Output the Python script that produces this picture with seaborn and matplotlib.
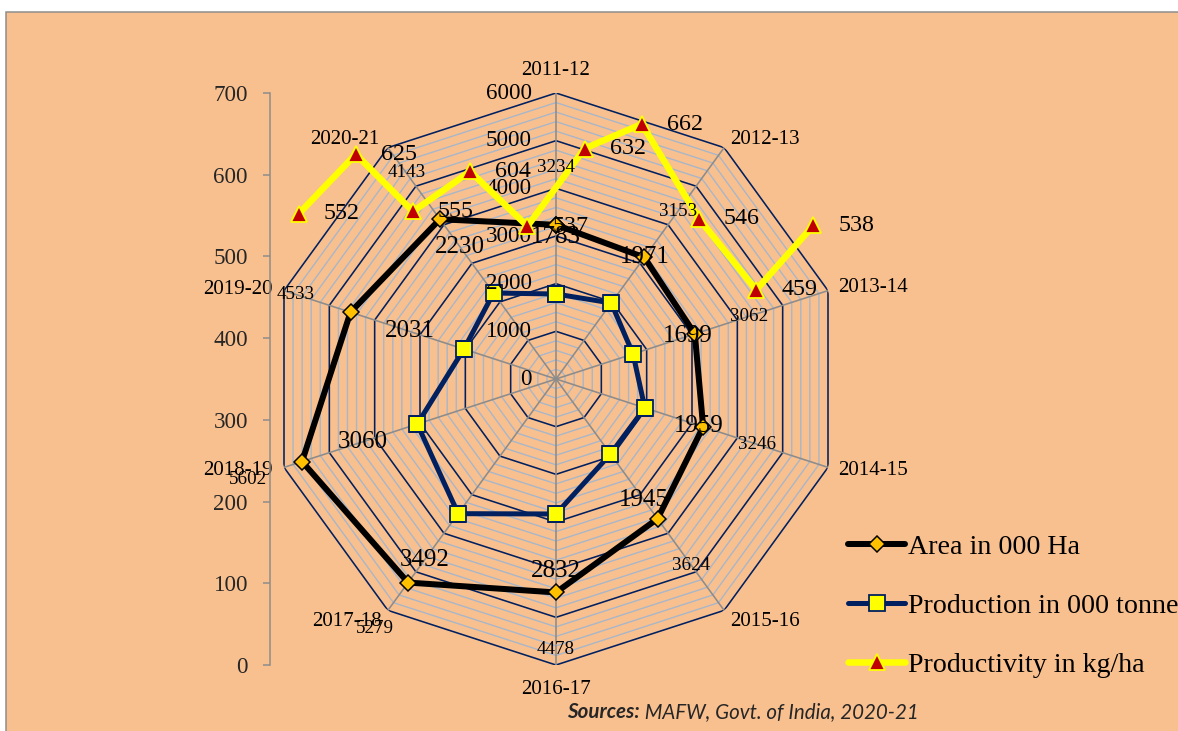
import numpy as np
import pandas as pd
import matplotlib
matplotlib.use("Agg")
import matplotlib.pyplot as plt
from matplotlib.lines import Line2D
from matplotlib.patches import Rectangle
import seaborn as sns

# ---- data -------------------------------------------------------------
years = ["2011-12", "2012-13", "2013-14", "2014-15", "2015-16",
         "2016-17", "2017-18", "2018-19", "2019-20", "2020-21"]
area = [3234, 3153, 3062, 3246, 3624, 4478, 5279, 5602, 4533, 4143]          # 000 ha
production = [1783, 1971, 1699, 1959, 1945, 2832, 3492, 3060, 2031, 2230]    # 000 tonnes
productivity = [552, 625, 555, 604, 537, 632, 662, 546, 459, 538]            # kg/ha
radial_ticks = [0, 1000, 2000, 3000, 4000, 5000, 6000]
left_ticks = [0, 100, 200, 300, 400, 500, 600, 700]
series_names = ["Area in 000 Ha", "Production in 000 tonnes", "Productivity in kg/ha"]

# ---- style ------------------------------------------------------------
PEACH = "#F9C08F"
BORDER = "#8C8C8C"
NAVY = "#002060"
MINOR = "#A9B6C8"
SPOKE = "#8C8C8C"
GOLD = "#FFC000"
YELLOW = "#FFFF00"
RED = "#C00000"

sns.set_theme(style="white")
plt.rcParams["font.family"] = ["Liberation Serif", "DejaVu Serif"]
plt.rcParams["text.color"] = "black"

DPI = 72
W, H = 1178, 731
fig = plt.figure(figsize=(W / DPI, H / DPI), dpi=DPI, facecolor="white")


def px_rect(x0, y0, x1, y1):
    return [x0 / W, 1 - y1 / H, (x1 - x0) / W, (y1 - y0) / H]


# chart area background with its frame
fig.add_artist(Rectangle((6 / W, -0.05), 1.1, (H - 12) / H + 0.05,
                         transform=fig.transFigure, facecolor=PEACH,
                         edgecolor=BORDER, lw=1.5, zorder=0))

plot_box = px_rect(270, 93, 842, 665)

# ---- radar (polar) axes ---------------------------------------------
axp = fig.add_axes(plot_box, projection="polar")
axp.set_theta_offset(np.pi / 2)
axp.set_theta_direction(-1)
axp.set_ylim(0, 6000)
axp.set_axis_off()

n = len(years)
angles = np.arange(n) * 2 * np.pi / n
theta_closed = np.r_[angles, 2 * np.pi]

# polygonal grid: minor every 200, major every 1000
for r in range(200, 6001, 200):
    major = r % 1000 == 0
    axp.plot(theta_closed, np.full(n + 1, r), color=NAVY if major else MINOR,
             lw=1.6 if major else 1.4, zorder=2 if major else 1)
for t in angles:
    axp.plot([t, t], [0, 6000], color=SPOKE, lw=1.6, zorder=3)


def closed(values):
    return list(values) + [values[0]]


radar = pd.DataFrame({"theta": theta_closed,
                      "area": closed(area),
                      "production": closed(production)})

sns.lineplot(data=radar, x="theta", y="area", ax=axp, sort=False,
             color="black", lw=6, marker="D", markersize=12,
             markerfacecolor=GOLD, markeredgecolor="black",
             markeredgewidth=1.5, zorder=5)
sns.lineplot(data=radar, x="theta", y="production", ax=axp, sort=False,
             color=NAVY, lw=5, marker="s", markersize=16,
             markerfacecolor=YELLOW, markeredgecolor=NAVY,
             markeredgewidth=1.8, zorder=5)

# value labels sit above every plotted line, so they live on the figure
for t, v in zip(angles, area):
    fig.text(t, v + 1200, f"{v}", transform=axp.transData, ha="center",
             va="center", fontsize=19, zorder=10)
for t, v in zip(angles, production):
    fig.text(t, v + 1200, f"{v}", transform=axp.transData, ha="center",
             va="center", fontsize=25, zorder=10)

# radial scale along the first spoke
for r in radial_ticks:
    axp.annotate(str(r), xy=(0, r), xytext=(-24, 0), textcoords="offset points",
                 ha="right", va="center", fontsize=23, annotation_clip=False, zorder=6)

# category labels around the outer ring
cat_layout = [("center", (0, 23)), ("left", (6, 8)), ("left", (10, 3)),
              ("left", (10, -3)), ("left", (6, -11)), ("center", (0, -25)),
              ("right", (-6, -11)), ("right", (-11, -3)), ("right", (-11, 1)),
              ("right", (-8, 8))]
for t, lab, (ha, off) in zip(angles, years, cat_layout):
    axp.annotate(lab, xy=(t, 6000), xytext=off, textcoords="offset points",
                 ha=ha, va="center", fontsize=21, annotation_clip=False, zorder=6)

# ---- productivity on a secondary cartesian axis -----------------------
axc = fig.add_axes(plot_box)
axc.set_facecolor("none")
axc.set_xlim(0, n)
axc.set_ylim(0, 700)
xpos = np.arange(n) + 0.5
sns.lineplot(x=xpos, y=productivity, ax=axc, color=YELLOW, lw=6.5,
             marker="^", markersize=16, markerfacecolor=RED,
             markeredgecolor=YELLOW, markeredgewidth=1.8, zorder=5)
for x, v in zip(xpos, productivity):
    axc.annotate(str(v), xy=(x, v), xytext=(43, 0), textcoords="offset points",
                 ha="center", va="center", fontsize=24)

for s in ["top", "right", "bottom"]:
    axc.spines[s].set_visible(False)
axc.spines["left"].set_color(SPOKE)
axc.spines["left"].set_linewidth(1.5)
axc.set_yticks(left_ticks)
axc.set_xticks([])
axc.tick_params(axis="y", direction="out", length=7, width=1.5, color=SPOKE,
                pad=15, labelsize=23, left=True)
axc.set_xlabel("")
axc.set_ylabel("")

# ---- legend -------------------------------------------------------------
handles = [
    Line2D([], [], color="black", lw=6, marker="D", markersize=12,
           markerfacecolor=GOLD, markeredgecolor="black", markeredgewidth=1.5),
    Line2D([], [], color=NAVY, lw=5, marker="s", markersize=16,
           markerfacecolor=YELLOW, markeredgecolor=NAVY, markeredgewidth=1.8),
    Line2D([], [], color=YELLOW, lw=6.5, marker="^", markersize=16,
           markerfacecolor=RED, markeredgecolor=YELLOW, markeredgewidth=1.8),
]
fig.legend(handles, series_names, loc="center left",
           bbox_to_anchor=(848 / W, 1 - 606 / H), frameon=False, fontsize=28,
           handlelength=2.05, handletextpad=0.1, labelspacing=1.2,
           borderpad=0, borderaxespad=0)

# ---- source note ---------------------------------------------------------
src = fig.text(567 / W, 1 - 712 / H, "Sources:", family="Lato", style="italic",
               weight="bold", fontsize=20.5, color="#262626", ha="left", va="center")
axc.annotate(" MAFW, Govt. of India, 2020-21", xy=(1, 0.5), xycoords=src,
             ha="left", va="center", family="Lato", style="italic",
             fontsize=20.5, color="#262626", annotation_clip=False)

fig.savefig("out.png", dpi=DPI, facecolor="white")
